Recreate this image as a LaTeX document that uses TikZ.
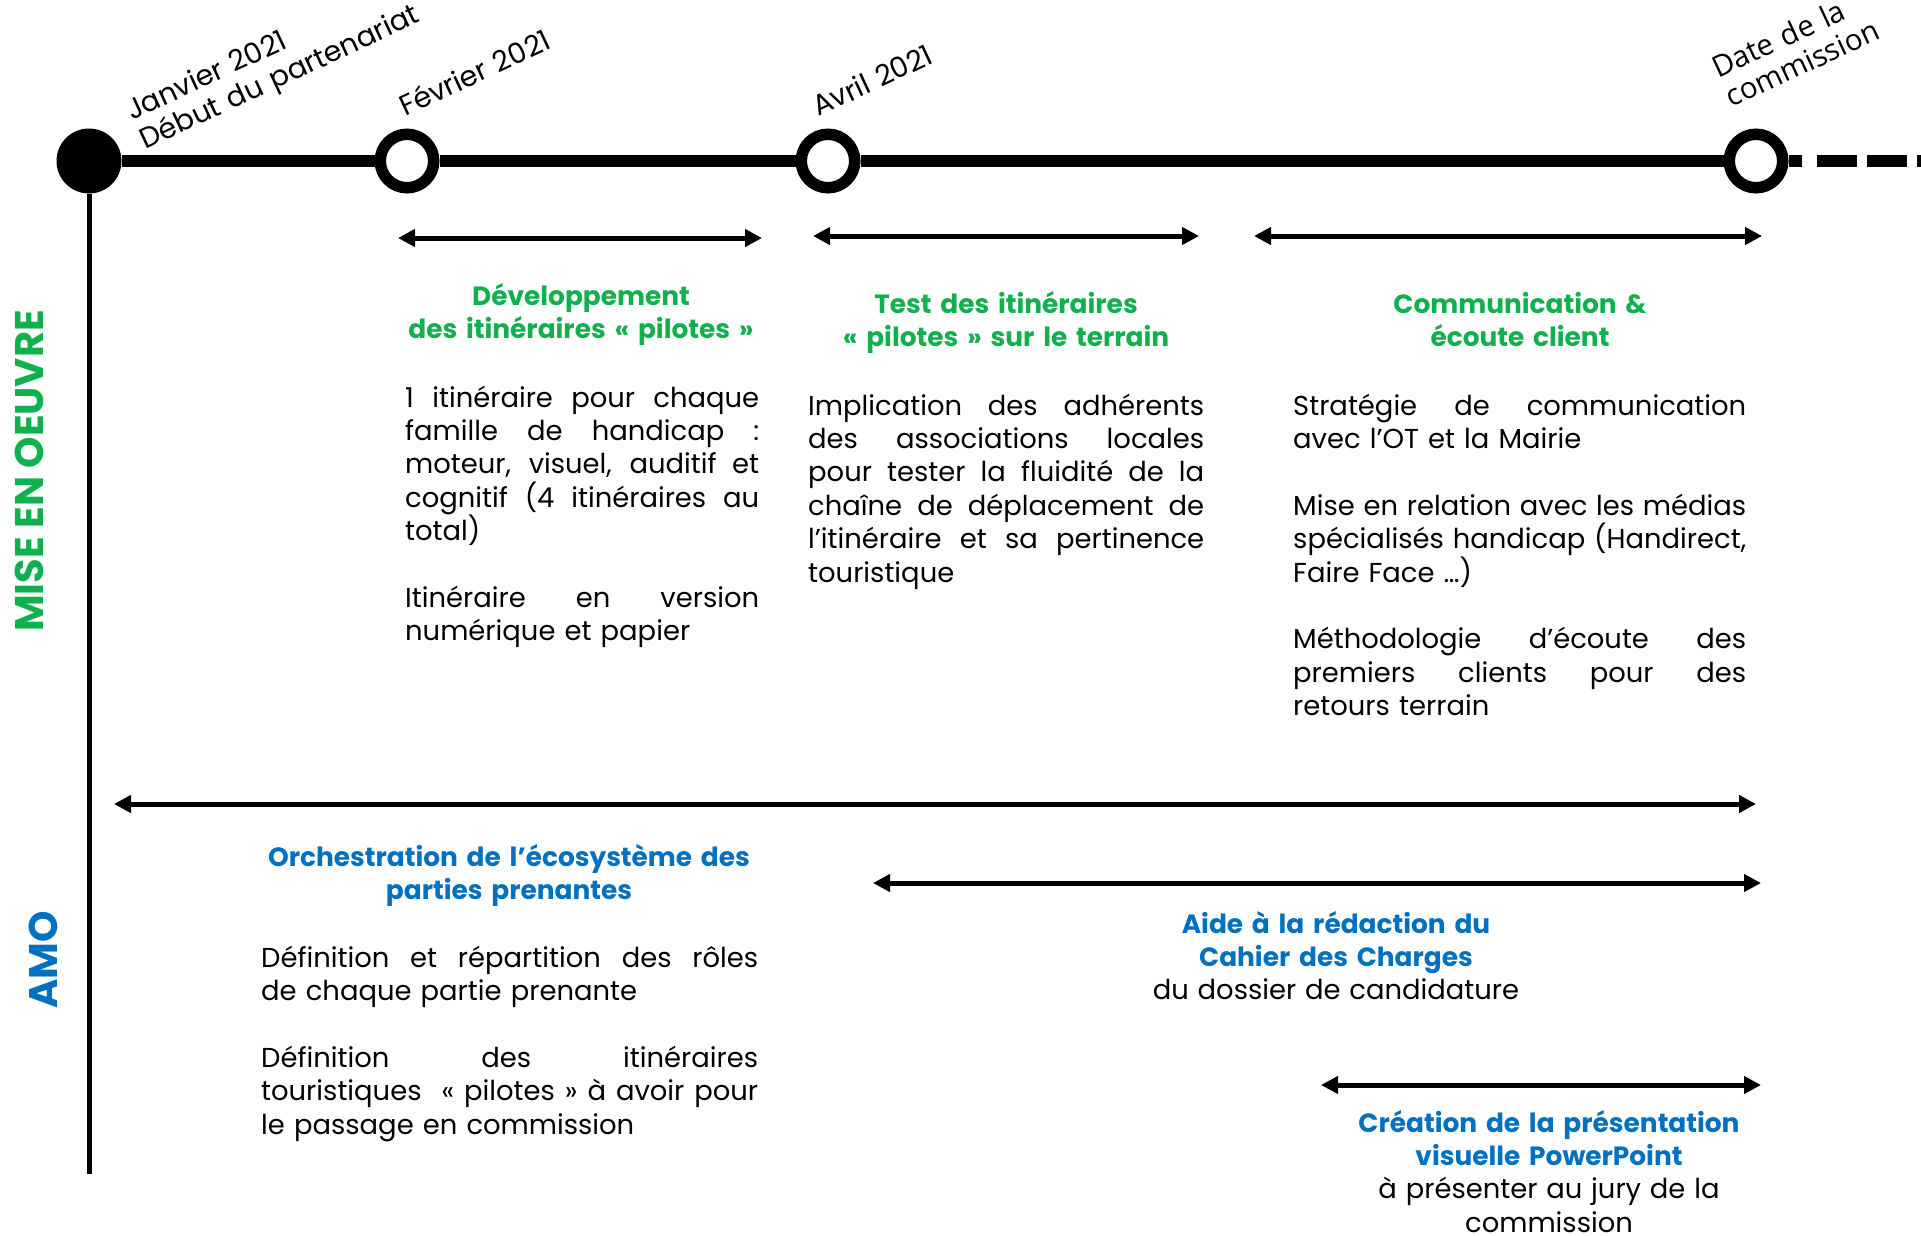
\documentclass[tikz,border=0pt]{standalone}
\usepackage{fontspec}
\setmainfont{Poppins}
\newfontfamily\labfont{Open Sans}
\usetikzlibrary{arrows.meta}
\definecolor{grn}{RGB}{16,176,76}
\definecolor{blu}{RGB}{0,112,192}
\hyphenpenalty=10000
\exhyphenpenalty=10000
\newcommand\jw{300pt}
\newcommand\jline[1]{\leavevmode\hbox to \jw{\spaceskip=0.26em plus 1fil\relax #1}\\}
\tikzset{
  body/.style={font=\fontsize{27.4}{33.4}\selectfont, text width=#1, align=left, inner sep=0pt, anchor=base west},
  head/.style={font=\fontsize{26.4}{33.4}\selectfont\bfseries, text width=700pt, align=center, inner sep=0pt, anchor=base},
  lab/.style={font=\fontsize{28.5}{32}\selectfont, text width=400pt, rotate=25, align=left, inner sep=0pt, anchor=base west},
  side/.style={font=\fontsize{40}{44}\selectfont\bfseries, rotate=90, inner sep=0pt, anchor=center},
  dot/.style={circle, fill=black, minimum size=65pt, inner sep=0pt},
  ring/.style={circle, draw=black, fill=white, line width=11.5pt, minimum size=53.5pt, inner sep=0pt},
  tl/.style={line width=12pt},
  span/.style={line width=5pt, {Triangle[length=17pt,width=17pt]}-{Triangle[length=17pt,width=17pt]}},
}
\begin{document}
\begin{tikzpicture}[x=1pt,y=-1pt]
\useasboundingbox (0,0) rectangle (1921,1235);

% timeline nodes
\node[dot] (j) at (89,161) {};
\node[ring] (f) at (407,161) {};
\node[ring] (a) at (828,161) {};
\node[ring] (d) at (1756,161) {};
\coordinate (stub) at (1802,161);
\coordinate (dstart) at (1817,161);
\coordinate (tend) at (1921,161);
\coordinate (vend) at (89,1174);

\draw[tl] (j) -- (f);
\draw[tl] (f) -- (a);
\draw[tl] (a) -- (d);
\draw[tl] (d) -- (stub);
\draw[tl, dash pattern=on 40pt off 10pt] (dstart) -- (tend);
\draw[line width=5pt] (j) -- (vend);

% timeline labels
\node[lab] (l1) at (132,121) {Janvier 2021\\Début du partenariat};
\node[lab] (l2) at (405,117) {Février 2021};
\node[lab] (l3) at (818,117) {Avril 2021};
\node[lab, font=\fontsize{29.5}{32}\selectfont\labfont] (l4) at (1718,79) {Date de la\\commission};

% side labels
\node[side, text=grn] (s1) at (29,471) {MISE EN OEUVRE};
\node[side, text=blu] (s2) at (43,960) {AMO};

% row 1 spans
\coordinate (r1a) at (398,238);
\coordinate (r1b) at (762,238);
\coordinate (r2a) at (813,236);
\coordinate (r2b) at (1199,236);
\coordinate (r3a) at (1254,236);
\coordinate (r3b) at (1762,236);
\draw[span] (r1a) -- (r1b);
\draw[span] (r2a) -- (r2b);
\draw[span] (r3a) -- (r3b);

% AMO spans
\coordinate (b1a) at (114,804);
\coordinate (b1b) at (1756,804);
\coordinate (b2a) at (873,883);
\coordinate (b2b) at (1761,883);
\coordinate (b3a) at (1321,1085);
\coordinate (b3b) at (1761,1085);
\draw[span] (b1a) -- (b1b);
\draw[span] (b2a) -- (b2b);
\draw[span] (b3a) -- (b3b);

% MISE EN OEUVRE blocks
\node[head, text=grn] (h1) at (581,305) {Développement\\des itinéraires « pilotes »};
\node[body=354pt] (t1) at (405,407) {\renewcommand\jw{354pt}%
\jline{1 itinéraire pour chaque}%
\jline{famille de handicap :}%
\jline{moteur, visuel, auditif et}%
\jline{cognitif (4 itinéraires au}%
total)\\[33.4pt]%
\jline{Itinéraire en version}%
numérique et papier};

\node[head, text=grn] (h2) at (1006,313) {Test des itinéraires\\« pilotes » sur le terrain};
\node[body=396pt] (t2) at (808,415) {\renewcommand\jw{396pt}%
\jline{Implication des adhérents}%
\jline{des associations locales}%
\jline{pour tester la fluidité de la}%
\jline{chaîne de déplacement de}%
\jline{l’itinéraire et sa pertinence}%
touristique};

\node[head, text=grn] (h3) at (1520,313) {Communication \&\\écoute client};
\node[body=453pt] (t3) at (1293,415) {\renewcommand\jw{453pt}%
\jline{Stratégie de communication}%
avec l’OT et la Mairie\\[33.4pt]%
\jline{Mise en relation avec les médias}%
\jline{spécialisés handicap (Handirect,}%
Faire Face …)\\[33.4pt]%
\jline{Méthodologie d’écoute des}%
\jline{premiers clients pour des}%
retours terrain};

% AMO blocks
\node[head, text=blu] (h4) at (509,866) {Orchestration de l’écosystème des\\parties prenantes};
\node[body=497pt] (t4) at (261,967) {\renewcommand\jw{497pt}%
\jline{Définition et répartition des rôles}%
de chaque partie prenante\\[33.4pt]%
\jline{Définition des itinéraires}%
\jline{touristiques ~« pilotes » à avoir pour}%
le passage en commission};

\node[head, text=blu] (h5) at (1336,933) {Aide à la rédaction du\\Cahier des Charges\\\mdseries\fontsize{27.4}{33.4}\selectfont\color{black}du dossier de candidature};
\node[head, text=blu] (h6) at (1549,1132) {Création de la présentation\\visuelle PowerPoint\\\mdseries\fontsize{27.4}{33.4}\selectfont\color{black}à présenter au jury de la\\\mdseries\fontsize{27.4}{33.4}\selectfont\color{black}commission};
\end{tikzpicture}
\end{document}
